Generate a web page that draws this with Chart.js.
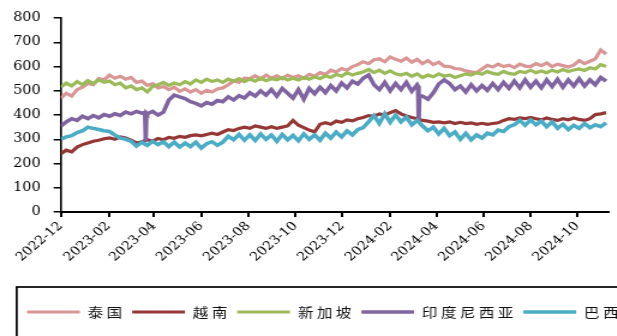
<!DOCTYPE html>
<html><head><meta charset="utf-8">
<script src="https://cdn.jsdelivr.net/npm/chart.js@4.4.1/dist/chart.umd.min.js"></script>
<style>
html,body{margin:0;padding:0;background:#fff;overflow:hidden;}
#wrap{width:617px;height:336px;overflow:hidden;position:relative;}
#c{position:absolute;left:0;top:0;transform:scaleX(1.2);transform-origin:0 0;}
</style></head><body>
<div id="wrap"><canvas id="c" width="514" height="336"></canvas></div>
<script>
// weekly samples starting 2022-12-01 (x = days since start)
const stepDays = 7;
const tickDays = [0,62,121,182,243,304,365,427,487,548,609,670];
const tickLabels = ['2022-12','2023-02','2023-04','2023-06','2023-08','2023-10','2023-12','2024-02','2024-04','2024-06','2024-08','2024-10'];
const seriesNames = ['泰国','越南','新加坡','印度尼西亚','巴西'];
const seriesColors = ['#D99694','#953735','#9BBB59','#8064A2','#4BACC6'];
const seriesWidths = [3.2,3.2,3.2,3.6,3.6];

const thailand = [470,490,478,505,515,530,525,550,545,565,552,560,548,555,535,540,522,530,512,518,
  505,515,498,508,495,505,490,502,495,508,512,525,540,535,552,550,562,548,565,552,
  562,550,565,555,562,552,568,560,575,568,585,578,592,585,600,608,620,612,628,632,
  620,640,630,622,635,618,630,612,625,608,618,602,600,592,590,582,578,575,590,605,
  598,610,600,606,596,610,602,600,612,604,615,600,610,604,598,606,625,612,622,632,
  668,652];
const vietnam = [240,255,248,268,278,285,292,296,302,306,300,310,305,296,285,290,298,292,303,298,
  308,304,312,308,315,318,314,320,325,320,330,340,336,345,350,345,355,350,345,352,
  345,350,355,378,358,348,338,330,362,368,362,375,370,380,376,385,390,398,395,405,
  400,410,418,405,396,390,385,378,375,370,372,368,372,365,370,365,368,362,366,362,
  365,368,378,385,382,388,385,390,385,380,388,382,378,385,380,388,382,378,385,402,
  405,410];
const singapore = [515,532,520,538,525,542,530,545,535,540,525,532,512,520,505,512,495,518,525,535,
  522,532,525,538,528,545,535,548,538,545,535,548,540,550,538,548,540,552,542,550,
  545,555,545,552,545,555,548,558,550,562,555,568,560,575,565,572,578,588,575,585,
  572,582,570,565,572,560,570,555,565,558,570,560,565,555,562,570,565,575,568,580,
  572,568,580,572,568,580,575,585,575,582,575,585,578,588,580,586,590,584,595,590,
  608,600];
const indonesia = [355,372,385,378,395,385,398,388,402,395,405,398,412,405,415,408,405,415,400,412,
  462,482,475,468,455,448,438,452,445,460,
  455,475,462,480,470,492,478,500,482,505,478,510,490,470,505,465,510,488,515,492,522,500,532,512,540,528,552,
  565,525,505,535,500,530,505,535,498,525,
  478,465,492,528,545,530,505,
  520,495,525,500,522,502,530,505,535,510,540,512,545,515,540,512,545,518,548,515,545,520,550,520,545,525,555,540];
// short one-day drops of the Indonesia series (day, value)
const indoSpikeDays = [109,110,111,463,464,465];
const indoSpikeVals = [410,292,408,520,368,480];
const brazil = [300,310,315,328,335,350,345,340,335,332,
  318,305,300,292,272,288,275,292,278,290,
  270,288,268,284,270,288,264,282,290,275,
  288,312,298,320,296,318,295,322,300,318,
  292,320,298,316,294,322,300,318,296,325,
  305,330,310,335,318,340,348,
  372,398,365,405,370,400,372,392,360,378,
  355,335,350,322,345,315,330,300,325,298,318,305,325,318,338,
  332,352,360,378,358,380,360,375,352,372,345,362,340,358,345,365,348,360,352,368];

const yMin = 0, yMax = 800, yStep = 100;

function toPoints(vals){ return vals.map((v,i)=>({x:i*stepDays, y:v})); }
const indoPoints = toPoints(indonesia)
  .concat(indoSpikeDays.map((d,k)=>({x:d, y:indoSpikeVals[k]})))
  .sort((a,b)=>a.x-b.x);

const allSeries = [toPoints(thailand), toPoints(vietnam), toPoints(singapore), indoPoints, toPoints(brazil)];

const LS = '2.8px';
const legendTweak = {
  id:'legendTweak',
  beforeLayout(chart){
    const lg = chart.legend;
    if (!lg || lg._tweaked) return;
    lg._tweaked = true;
    const fit0 = lg.fit.bind(lg), draw0 = lg.draw.bind(lg);
    lg.fit = function(){
      const ctx = this.ctx; ctx.save(); ctx.letterSpacing = LS;
      const mw = this.maxWidth; this.maxWidth = 5000;
      fit0();
      this.maxWidth = mw; ctx.restore();
      this.width = mw; this.height = 36;
    };
    lg.draw = function(){
      const ctx = this.ctx; ctx.save(); ctx.letterSpacing = LS; ctx.translate(17, 0);
      const r = this.right; this.right = 5000;
      draw0();
      this.right = r; ctx.restore();
    };
  },
  afterDraw(chart){
    const ctx = chart.ctx, lg = chart.legend;
    ctx.save();
    ctx.strokeStyle = '#000'; ctx.lineWidth = 1.7;
    ctx.strokeRect(13.9, lg.top - 13, 700, 120);
    ctx.restore();
  }
};

new Chart(document.getElementById('c'), {
  type:'line',
  data:{
    datasets: seriesNames.map((name,k)=>({
      label:name, data:allSeries[k], borderColor:seriesColors[k], backgroundColor:seriesColors[k],
      borderWidth:seriesWidths[k], pointRadius:0, tension:0, fill:false, order:5-k
    }))
  },
  options:{
    responsive:false, devicePixelRatio:1, animation:false,
    layout:{padding:{left:0, right:7, top:15, bottom:0}},
    plugins:{
      tooltip:{enabled:false},
      legend:{position:'bottom', align:'start',
        labels:{usePointStyle:true, pointStyle:'line', pointStyleWidth:44, padding:5.5,
          font:{family:'"Noto Sans CJK SC"', size:13}, color:'#111',
          sort:(a,b)=>a.datasetIndex-b.datasetIndex}}
    },
    scales:{
      x:{type:'linear', min:0, max:710,
        afterBuildTicks:s=>{ s.ticks = tickDays.map(v=>({value:v})); },
        afterFit:s=>{ s.height = 88; },
        ticks:{autoSkip:false, minRotation:45, maxRotation:45, padding:2, color:'#000',
          font:{family:'"DejaVu Serif"', size:12},
          callback:(v)=>{ const i = tickDays.indexOf(v); return i>=0 ? tickLabels[i] : ''; }},
        grid:{drawOnChartArea:false, drawTicks:true, tickLength:5, lineWidth:2, color:'#000'},
        border:{display:true, color:'#000', width:2}
      },
      y:{min:yMin, max:yMax,
        ticks:{stepSize:yStep, padding:10.9, color:'#000', font:{family:'"DejaVu Serif"', size:12}},
        grid:{drawOnChartArea:false, drawTicks:true, tickLength:6, lineWidth:1.5, color:'#000'},
        border:{display:true, color:'#000', width:1.6}
      }
    }
  },
  plugins:[legendTweak]
});
</script>
</body></html>
